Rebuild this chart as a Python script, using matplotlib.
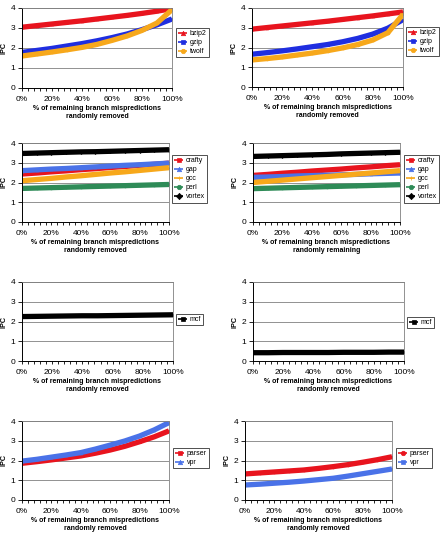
import numpy as np
import matplotlib
matplotlib.use("Agg")
import matplotlib.pyplot as plt
from matplotlib.ticker import FixedLocator

plt.rcParams['font.family'] = ['Liberation Sans', 'DejaVu Sans']

# x: % of remaining branch mispredictions (every 10%)
pct = [0, 10, 20, 30, 40, 50, 60, 70, 80, 90, 100]

# row 1
bzip2_l = [3.04, 3.12, 3.20, 3.28, 3.36, 3.45, 3.54, 3.63, 3.73, 3.84, 3.97]
gzip_l = [1.78, 1.88, 1.98, 2.10, 2.22, 2.36, 2.52, 2.70, 2.92, 3.16, 3.45]
twolf_l = [1.60, 1.70, 1.80, 1.91, 2.03, 2.18, 2.38, 2.60, 2.88, 3.25, 3.92]
bzip2_r = [2.93, 3.01, 3.09, 3.17, 3.25, 3.33, 3.42, 3.51, 3.60, 3.70, 3.80]
gzip_r = [1.66, 1.74, 1.83, 1.93, 2.04, 2.15, 2.29, 2.46, 2.68, 2.98, 3.41]
twolf_r = [1.37, 1.44, 1.52, 1.62, 1.72, 1.84, 1.98, 2.15, 2.38, 2.75, 3.68]

# row 2
crafty_l = [2.43, 2.48, 2.54, 2.59, 2.65, 2.70, 2.76, 2.81, 2.87, 2.92, 2.98]
gap_l = [2.60, 2.64, 2.68, 2.71, 2.75, 2.79, 2.83, 2.87, 2.90, 2.94, 2.98]
gcc_l = [2.09, 2.15, 2.21, 2.28, 2.34, 2.41, 2.48, 2.54, 2.61, 2.68, 2.75]
perl_l = [1.70, 1.72, 1.74, 1.76, 1.78, 1.80, 1.82, 1.84, 1.86, 1.88, 1.90]
vortex_l = [3.47, 3.49, 3.51, 3.53, 3.55, 3.56, 3.58, 3.60, 3.62, 3.64, 3.66]
crafty_r = [2.36, 2.41, 2.47, 2.52, 2.58, 2.63, 2.68, 2.74, 2.79, 2.85, 2.90]
gap_r = [2.26, 2.28, 2.30, 2.33, 2.35, 2.37, 2.39, 2.41, 2.44, 2.46, 2.48]
gcc_r = [2.00, 2.06, 2.12, 2.18, 2.24, 2.30, 2.36, 2.42, 2.48, 2.54, 2.60]
perl_r = [1.69, 1.71, 1.73, 1.75, 1.77, 1.79, 1.81, 1.83, 1.85, 1.87, 1.89]
vortex_r = [3.32, 3.34, 3.36, 3.38, 3.40, 3.42, 3.45, 3.47, 3.49, 3.51, 3.53]

# row 3
mcf_l = [2.25, 2.26, 2.27, 2.28, 2.29, 2.29, 2.30, 2.31, 2.32, 2.33, 2.34]
mcf_r = [0.42, 0.42, 0.43, 0.43, 0.43, 0.43, 0.44, 0.44, 0.44, 0.45, 0.45]

# row 4
parser_l = [1.86, 1.94, 2.03, 2.13, 2.23, 2.37, 2.53, 2.72, 2.95, 3.20, 3.50]
vpr_l = [1.97, 2.06, 2.17, 2.28, 2.40, 2.58, 2.78, 2.99, 3.24, 3.55, 3.92]
parser_r = [1.32, 1.37, 1.42, 1.47, 1.52, 1.60, 1.69, 1.79, 1.91, 2.04, 2.19]
vpr_r = [0.76, 0.80, 0.85, 0.90, 0.96, 1.03, 1.10, 1.21, 1.33, 1.45, 1.57]

RED = '#e8141e'
BLUE = '#1f2ee0'
ORANGE = '#f7a81b'
GREEN = '#2e8b57'
LBLUE = '#4a72e8'
BLACK = '#000000'

W, H = 441, 545
fig = plt.figure(figsize=(W / 100, H / 100), dpi=100)

XL_REMOVED = '% of remaining branch mispredictions\nrandomly removed'
XL_REMAIN = '% of remaining branch mispredictions\nrandomly remaining'

# (x0, x1, ytop, ybot) and legend (x, ytop) in pixels
panels = [
    ((22, 172, 8, 88), (176, 28), [('bzip2', bzip2_l, RED, '^'), ('gzip', gzip_l, BLUE, 's'), ('twolf', twolf_l, ORANGE, 'o')], XL_REMOVED),
    ((252, 403, 8, 87), (406, 27), [('bzip2', bzip2_r, RED, '^'), ('gzip', gzip_r, BLUE, 's'), ('twolf', twolf_r, ORANGE, 'o')], XL_REMOVED),
    ((22, 169, 143, 222), (172, 155), [('crafty', crafty_l, RED, 's'), ('gap', gap_l, LBLUE, '^'), ('gcc', gcc_l, ORANGE, '+'),
                                        ('perl', perl_l, GREEN, 'o'), ('vortex', vortex_l, BLACK, 'D')], XL_REMOVED),
    ((253, 400, 143, 222), (404, 155), [('crafty', crafty_r, RED, 's'), ('gap', gap_r, LBLUE, '^'), ('gcc', gcc_r, ORANGE, '+'),
                                         ('perl', perl_r, GREEN, 'o'), ('vortex', vortex_r, BLACK, 'D')], XL_REMAIN),
    ((22, 173, 282, 361), (176, 314), [('mcf', mcf_l, BLACK, 's')], XL_REMOVED),
    ((253, 404, 282, 361), (407, 317), [('mcf', mcf_r, BLACK, 's')], XL_REMOVED),
    ((22, 169, 421, 500), (173, 448), [('parser', parser_l, RED, 's'), ('vpr', vpr_l, LBLUE, '^')], XL_REMOVED),
    ((245, 392, 421, 500), (396, 448), [('parser', parser_r, RED, 'o'), ('vpr', vpr_r, LBLUE, 's')], XL_REMOVED),
]

for (x0, x1, yt, yb), (lx, ly), series, xlab in panels:
    ax = fig.add_axes([x0 / W, 1 - yb / H, (x1 - x0) / W, (yb - yt) / H])
    for name, vals, col, mk in series:
        ax.plot(pct, vals, color=col, lw=3.8, marker=mk, ms=2, mew=0.5,
                solid_capstyle='butt', label=name)
    ax.set_xlim(0, 100)
    ax.set_ylim(0, 4)
    ax.set_yticks([0, 1, 2, 3, 4])
    ax.set_xticks([0, 20, 40, 60, 80, 100])
    ax.set_xticklabels(['0%', '20%', '40%', '60%', '80%', '100%'])
    ax.xaxis.set_minor_locator(FixedLocator(np.arange(0, 101, 4)))
    ax.tick_params(axis='x', which='both', direction='out', length=2.5, width=0.6,
                   labelsize=6, pad=3.5)
    ax.tick_params(axis='y', direction='out', length=3, width=0.6, labelsize=6, pad=2)
    ax.grid(axis='y', color='#808080', lw=0.6)
    ax.set_axisbelow(True)
    for s in ('top', 'right'):
        ax.spines[s].set_color('#808080')
        ax.spines[s].set_linewidth(0.6)
    for s in ('left', 'bottom'):
        ax.spines[s].set_linewidth(0.7)
    ax.set_ylabel('IPC', fontsize=5.2, fontweight='bold', labelpad=2)
    ax.set_xlabel(xlab, fontsize=5.0, fontweight='bold', labelpad=1, linespacing=1.35)
    leg = ax.legend(loc='upper left', bbox_to_anchor=(lx / W, 1 - ly / H),
                    bbox_transform=fig.transFigure, fontsize=5, frameon=True,
                    fancybox=False, edgecolor='black', handlelength=1.35,
                    handletextpad=0.3, borderpad=0.3, labelspacing=0.3,
                    borderaxespad=0)
    leg.get_frame().set_linewidth(0.6)
    for h in leg.get_lines():
        h.set_linewidth(1.2)
        h.set_markersize(3.2)

fig.savefig('out.png', dpi=100)
